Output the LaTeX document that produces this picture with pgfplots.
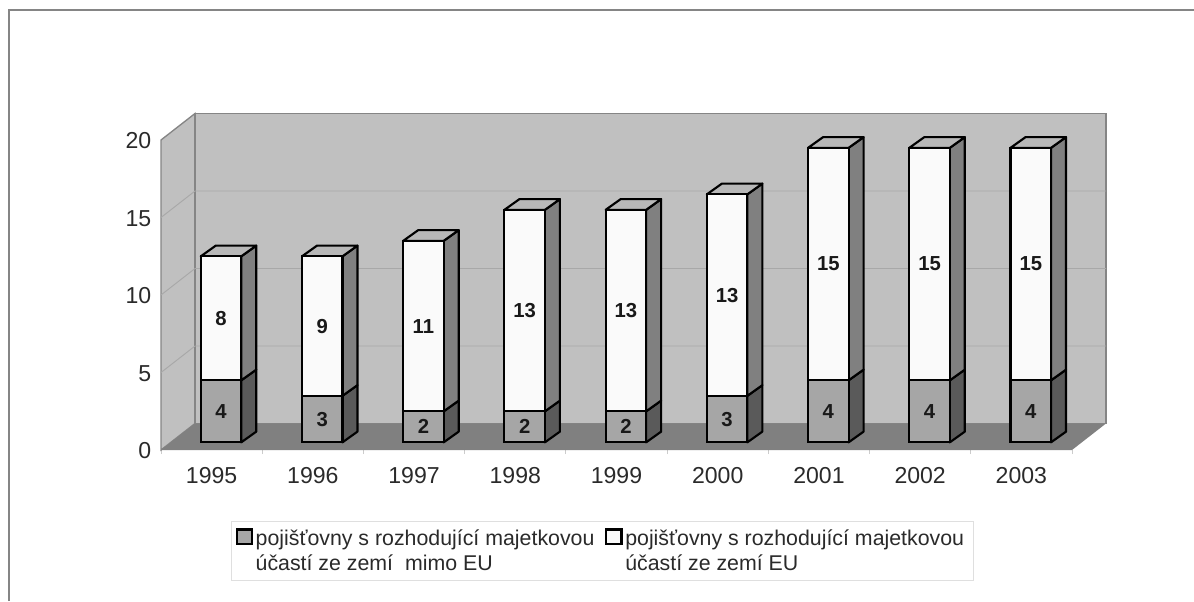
\documentclass[border=0pt]{standalone}
\usepackage{pgfplots}
\pgfplotsset{compat=1.18}
\usepackage{pgfplotstable}
\usepackage{fontspec}
\setmainfont{Liberation Sans}
\definecolor{wall}{HTML}{C0C0C0}
\definecolor{floorc}{HTML}{808080}
\definecolor{grid3d}{HTML}{A8A8A8}
\definecolor{edgec}{HTML}{858585}
\definecolor{barA}{HTML}{A6A6A6}
\definecolor{barB}{HTML}{FAFAFA}
\definecolor{sideA}{HTML}{5A5A5A}
\definecolor{sideB}{HTML}{808080}
\definecolor{topc}{HTML}{B8B8B8}
\definecolor{txt}{HTML}{2A2A2A}
\pgfplotstableread{
x a b
0 4 8
1 3 9
2 2 11
3 2 13
4 2 13
5 3 13
6 4 15
7 4 15
8 4 15
}\datatable
% side and top faces of one bar: position, lower part, total
\newcommand{\barfaces}[3]{%
  \pgfmathsetmacro\xr{#1+0.2}%
  \pgfmathsetmacro\xb{#1+0.2+0.148}%
  \pgfmathsetmacro\xc{#1-0.2+0.148}%
  \pgfmathsetmacro\xl{#1-0.2}%
  \pgfmathsetmacro\ya{#2+0.69}%
  \pgfmathsetmacro\yt{#3+0.69}%
  \edef\tmp{\noexpand\addplot[draw=black,line width=1.6pt,fill=sideA,line join=round] coordinates {(\xr,0) (\xb,0.69) (\xb,\ya) (\xr,#2)} -- cycle;
  \noexpand\addplot[draw=black,line width=1.6pt,fill=sideB,line join=round] coordinates {(\xr,#2) (\xb,\ya) (\xb,\yt) (\xr,#3)} -- cycle;
  \noexpand\addplot[draw=black,line width=1.6pt,fill=topc,line join=round] coordinates {(\xl,#3) (\xr,#3) (\xb,\yt) (\xc,\yt)} -- cycle;}%
  \tmp
}
\begin{document}
\begin{tikzpicture}[x=1pt,y=1pt]
\path[use as bounding box] (0,0) rectangle (895.5,450.75);
\draw[color=edgec,line width=1.5pt] (7.1,0) -- (7.1,443) -- (895.5,443);
% walls, floor, ticks
\begin{axis}[
  at={(120.75pt,113.25pt)},anchor=south west,
  scale only axis,width=683.25pt,height=232.5pt,
  xmin=-0.5,xmax=8.5,ymin=0,ymax=20,clip=false,
  axis line style={draw=none},
  axis on top=false,
  xtick={0,...,8},
  xticklabels={1995,1996,1997,1998,1999,2000,2001,2002,2003},
  major x tick style={draw=none},
  minor xtick={-0.5,0.5,...,8.5},
  minor x tick style={draw=gray!40,line width=0.6pt},
  minor tick length=3pt,
  ytick={0,5,10,15,20},
  ytick style={draw=none},
  tick align=outside,
  xtick pos=bottom,ytick pos=left,
  xticklabel style={font=\fontsize{17.3}{19}\selectfont,text=txt,yshift=-5pt},
  yticklabel style={font=\fontsize{17.3}{19}\selectfont,text=txt,xshift=0.5pt,yshift=-0.6pt},
  /pgf/number format/assume math mode=true,
]
\addplot[fill=wall,draw=edgec,line width=1pt] coordinates {(-0.5,0) (-0.164,1.71) (-0.164,21.71) (-0.5,20)} -- cycle;
\addplot[fill=wall,draw=edgec,line width=1pt] coordinates {(-0.164,1.71) (8.836,1.71) (8.836,21.71) (-0.164,21.71)} -- cycle;
\addplot[fill=floorc,draw=none] coordinates {(-0.5,0) (8.5,0) (8.836,1.71) (-0.164,1.71)} -- cycle;
\addplot[draw=grid3d,line width=0.7pt] coordinates {(-0.5,5) (-0.164,6.71) (8.836,6.71)};
\addplot[draw=grid3d,line width=0.7pt] coordinates {(-0.5,10) (-0.164,11.71) (8.836,11.71)};
\addplot[draw=grid3d,line width=0.7pt] coordinates {(-0.5,15) (-0.164,16.71) (8.836,16.71)};
\end{axis}
% side and top faces
\begin{axis}[
  at={(127.8pt,119.0pt)},anchor=south west,
  scale only axis,width=683.25pt,height=232.5pt,
  xmin=-0.5,xmax=8.5,ymin=0,ymax=20,clip=false,hide axis,
]
\barfaces{0}{4}{12}
\barfaces{1}{3}{12}
\barfaces{2}{2}{13}
\barfaces{3}{2}{15}
\barfaces{4}{2}{15}
\barfaces{5}{3}{16}
\barfaces{6}{4}{19}
\barfaces{7}{4}{19}
\barfaces{8}{4}{19}
\end{axis}
% front faces with labels and legend
\begin{axis}[
  at={(127.8pt,119.0pt)},anchor=south west,
  scale only axis,width=683.25pt,height=232.5pt,
  xmin=-0.5,xmax=8.5,ymin=0,ymax=20,clip=false,hide axis,
  ybar stacked,bar width=30.4pt,
  nodes near coords={\pgfmathprintnumber[assume math mode=true]{\pgfplotspointmeta}},
  every node near coord/.append style={anchor=center,
    font=\fontsize{15.2}{16}\selectfont\bfseries,text=black!90},
  legend columns=2,
  legend style={at={(0.0665,-0.2529)},anchor=north west,
    draw=gray!25,line width=0.8pt,inner xsep=3pt,inner ysep=4.2pt,
    font=\fontsize{16}{18.75}\selectfont,text=txt,
    cells={align=left,anchor=north west},
    /tikz/every even column/.append style={column sep=6pt}},
  legend cell align=left,
]
\addplot[draw=black,line width=1.6pt,fill=barA,
  legend image code/.code={\draw[draw=black,line width=1.6pt,fill=barA] (0pt,5pt) rectangle (11.5pt,16pt);}]
  table[x=x,y=a] {\datatable};
\addlegendentry{pojišťovny s rozhodující majetkovou\\účastí ze zemí\ \ mimo EU}
\addplot[draw=black,line width=1.6pt,fill=barB,
  legend image code/.code={\draw[draw=black,line width=1.6pt,fill=barB] (0pt,5pt) rectangle (11.5pt,16pt);}]
  table[x=x,y=b] {\datatable};
\addlegendentry{pojišťovny s rozhodující majetkovou\hspace*{2pt}\\účastí ze zemí EU}
\end{axis}
\end{tikzpicture}
\end{document}
